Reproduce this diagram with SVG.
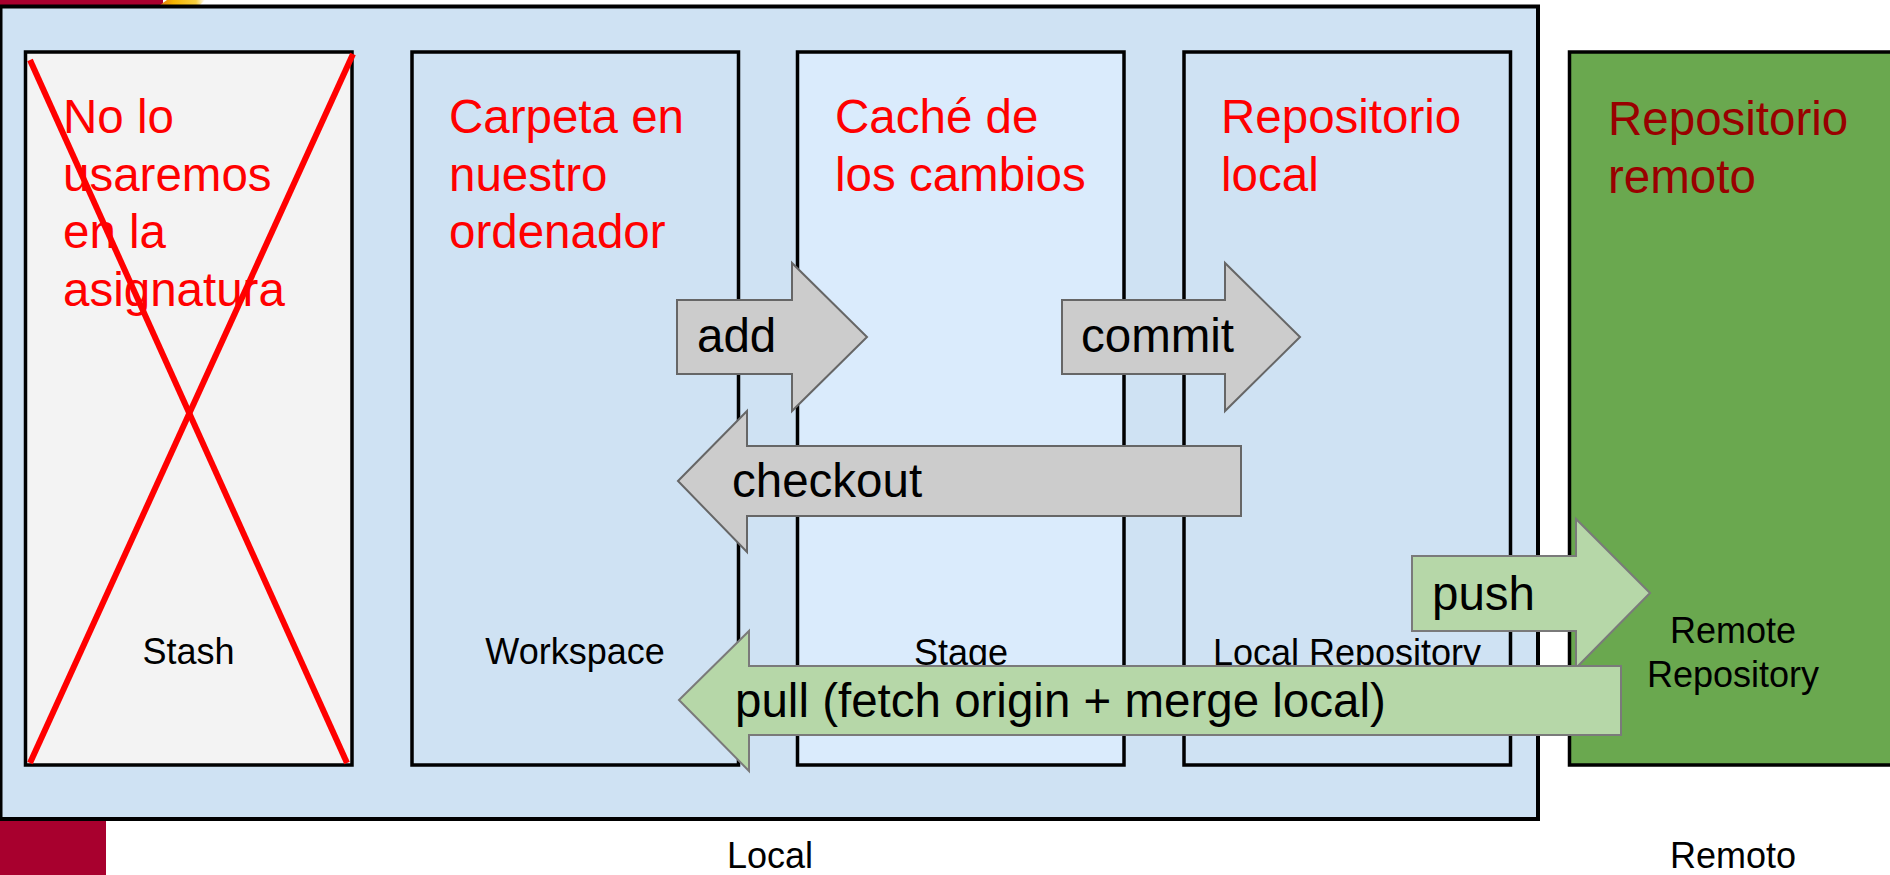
<svg xmlns="http://www.w3.org/2000/svg" width="1890" height="875" viewBox="0 0 1890 875">
  <defs>
    <linearGradient id="gold" x1="0" y1="0" x2="1" y2="0">
      <stop offset="0" stop-color="#E07A10"/>
      <stop offset="0.3" stop-color="#F5B400"/>
      <stop offset="0.8" stop-color="#F8D040"/>
      <stop offset="1" stop-color="#FFFFFF"/>
    </linearGradient>
    <style>
      .box { stroke: #000000; stroke-width: 3.5; }
      .big { font-family: "Liberation Sans", Arial, sans-serif; font-size: 47.5px; }
      .small { font-family: "Liberation Sans", Arial, sans-serif; font-size: 36px; fill: #000000; text-anchor: middle; }
      .red { fill: #FF0000; }
      .darkred { fill: #990000; }
      .gray { fill: #CCCCCC; stroke: #666666; stroke-width: 2; }
      .green { fill: #B6D7A8; stroke: #7A7A7A; stroke-width: 2; }
      .lbl { fill: #000000; }
      .cross { stroke: #FF0000; stroke-width: 6; fill: none; }
    </style>
  </defs>
  <rect x="0" y="0" width="1890" height="875" fill="#FFFFFF"/>
  <g id="decor">
    <rect x="0" y="0" width="163" height="5" fill="#A8002E"/>
    <polygon points="160,5 167,0 205,0 200,5" fill="url(#gold)"/>
    <rect x="0" y="821" width="106" height="54" fill="#A8002E"/>
  </g>
  <g id="local">
    <rect x="0.5" y="6.5" width="1537.5" height="812.5" fill="#CFE2F3" stroke="#000000" stroke-width="4"/>
    <text class="small" x="770" y="868">Local</text>
  </g>
  <g id="stash">
    <rect class="box" x="25.5" y="52" width="326.5" height="713" fill="#F3F3F3"/>
    <text class="big red"><tspan x="63" y="133">No lo</tspan><tspan x="63" y="190.7">usaremos</tspan><tspan x="63" y="248">en la</tspan><tspan x="63" y="306">asignatura</tspan></text>
    <text class="small" x="188.5" y="664">Stash</text>
    <line class="cross" x1="30" y1="60" x2="347" y2="763"/>
    <line class="cross" x1="353" y1="54" x2="30" y2="763"/>
  </g>
  <g id="workspace">
    <rect class="box" x="412" y="52" width="326.5" height="713" fill="#CFE2F3"/>
    <text class="big red"><tspan x="449" y="133">Carpeta en</tspan><tspan x="449" y="190.7">nuestro</tspan><tspan x="449" y="248">ordenador</tspan></text>
    <text class="small" x="575" y="664">Workspace</text>
  </g>
  <g id="stage">
    <rect class="box" x="797.5" y="52" width="326.5" height="713" fill="#DAEBFC"/>
    <text class="big red"><tspan x="835" y="133">Caché de</tspan><tspan x="835" y="190.7">los cambios</tspan></text>
    <text class="small" x="961" y="665">Stage</text>
  </g>
  <g id="local-repo">
    <rect class="box" x="1184" y="52" width="326.5" height="713" fill="#CFE2F3"/>
    <text class="big red"><tspan x="1221" y="133">Repositorio</tspan><tspan x="1221" y="190.7">local</tspan></text>
    <text class="small" x="1347" y="665">Local Repository</text>
  </g>
  <g id="remote-repo">
    <rect class="box" x="1569.5" y="52" width="340" height="713" fill="#6AA84F"/>
    <text class="big darkred"><tspan x="1608" y="135">Repositorio</tspan><tspan x="1608" y="193">remoto</tspan></text>
    <text class="small"><tspan x="1733" y="643">Remote</tspan><tspan x="1733" y="687">Repository</tspan></text>
    <text class="small" x="1733" y="868">Remoto</text>
  </g>
  <g id="connectors">
    <g id="add">
      <path class="gray" d="M677,300 H792 V263 L867,337 L792,411 V374 H677 Z"/>
      <text class="big lbl" x="697" y="352">add</text>
    </g>
    <g id="commit">
      <path class="gray" d="M1062,300 H1225 V263 L1300,337 L1225,411 V374 H1062 Z"/>
      <text class="big lbl" x="1081" y="352">commit</text>
    </g>
    <g id="checkout">
      <path class="gray" d="M678,481 L747,411 V446 H1241 V516 H747 V552 Z"/>
      <text class="big lbl" x="732" y="497">checkout</text>
    </g>
    <g id="push">
      <path class="green" d="M1412,556 H1576 V519 L1650,593 L1576,668 V631 H1412 Z"/>
      <text class="big lbl" x="1432" y="610">push</text>
    </g>
    <g id="pull">
      <path class="green" d="M679,700 L749,631 V666 H1621 V735 H749 V771 Z"/>
      <text class="big lbl" x="735" y="717">pull (fetch origin + merge local)</text>
    </g>
  </g>
</svg>
